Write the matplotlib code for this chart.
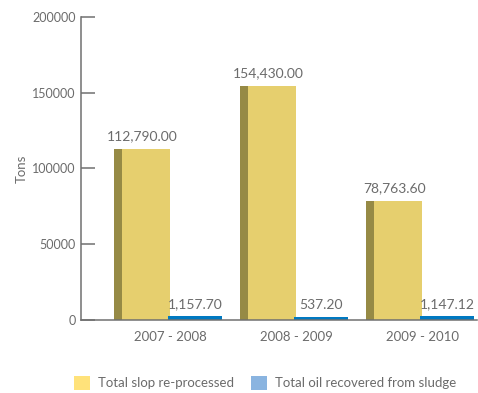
import matplotlib.pyplot as plt
from matplotlib.patches import Patch

plt.rcParams['font.family'] = ['Lato', 'DejaVu Sans']

years = ['2007 - 2008', '2008 - 2009', '2009 - 2010']
slop_reprocessed = [112790.00, 154430.00, 78763.60]
oil_recovered = [1157.70, 537.20, 1147.12]

TEXT = '#6b6b6b'
AXIS = '#707070'
YELLOW = '#e6cf6e'
YELLOW_SIDE = '#968a45'
BLUE = '#0079c1'
LEG_YELLOW = '#ffe27a'
LEG_BLUE = '#8ab4e0'

W_FRONT = 0.381
W_SIDE = 0.065
W_BLUE = 0.389

fig = plt.figure(figsize=(4.78, 3.93), dpi=100)
ax = fig.add_axes([0.1695, 0.1858, 0.8285, 0.771])

xs = range(len(years))
for x, slop, oil in zip(xs, slop_reprocessed, oil_recovered):
    # yellow bar with a darker side face on the left
    ax.bar(x - W_FRONT - W_SIDE, slop, width=W_SIDE, align='edge',
           color=YELLOW_SIDE, linewidth=0)
    ax.bar(x - W_FRONT, slop, width=W_FRONT, align='edge',
           color=YELLOW, linewidth=0)
    # blue bar (thin edge keeps the small values visible)
    ax.bar(x, oil, width=W_BLUE, align='edge', color=BLUE,
           edgecolor=BLUE, linewidth=3.6)

    ax.annotate(f'{slop:,.2f}', (x - (W_FRONT + W_SIDE) / 2, slop),
                xytext=(0, 5), textcoords='offset points',
                ha='center', va='bottom', fontsize=10, color=TEXT)
    ax.annotate(f'{oil:,.2f}', (x + W_BLUE / 2, oil),
                xytext=(0, 6), textcoords='offset points',
                ha='center', va='bottom', fontsize=10, color=TEXT)

ax.set_xlim(-0.71, 2.433)
ax.set_ylim(0, 200000)
ax.set_yticks([0, 50000, 100000, 150000, 200000])
ax.set_yticklabels(['0', '50000', '100000', '150000', '200000'])
ax.set_xticks(list(xs))
ax.set_xticklabels(years)

for side in ['top', 'right']:
    ax.spines[side].set_visible(False)
for side in ['left', 'bottom']:
    ax.spines[side].set_color(AXIS)
    ax.spines[side].set_linewidth(1.1)

ax.tick_params(axis='y', direction='in', length=10, width=1.1, color=AXIS,
               labelsize=9, labelcolor=TEXT, pad=4)
ax.tick_params(axis='x', length=0, labelsize=9.5, labelcolor=TEXT, pad=8)

ax.set_ylabel('Tons', fontsize=9.5, color=TEXT, labelpad=3)

handles = [Patch(facecolor=LEG_YELLOW, label='Total slop re-processed'),
           Patch(facecolor=LEG_BLUE, label='Total oil recovered from sludge')]
leg = fig.legend(handles=handles, loc='center', ncol=2, frameon=False,
                 bbox_to_anchor=(265 / 478, 1 - 383 / 393),
                 handlelength=1.2, handleheight=1.2, handletextpad=0.6,
                 columnspacing=1.3, fontsize=9.5)
for t in leg.get_texts():
    t.set_color(TEXT)

fig.savefig('out.png', dpi=100, facecolor='white')
